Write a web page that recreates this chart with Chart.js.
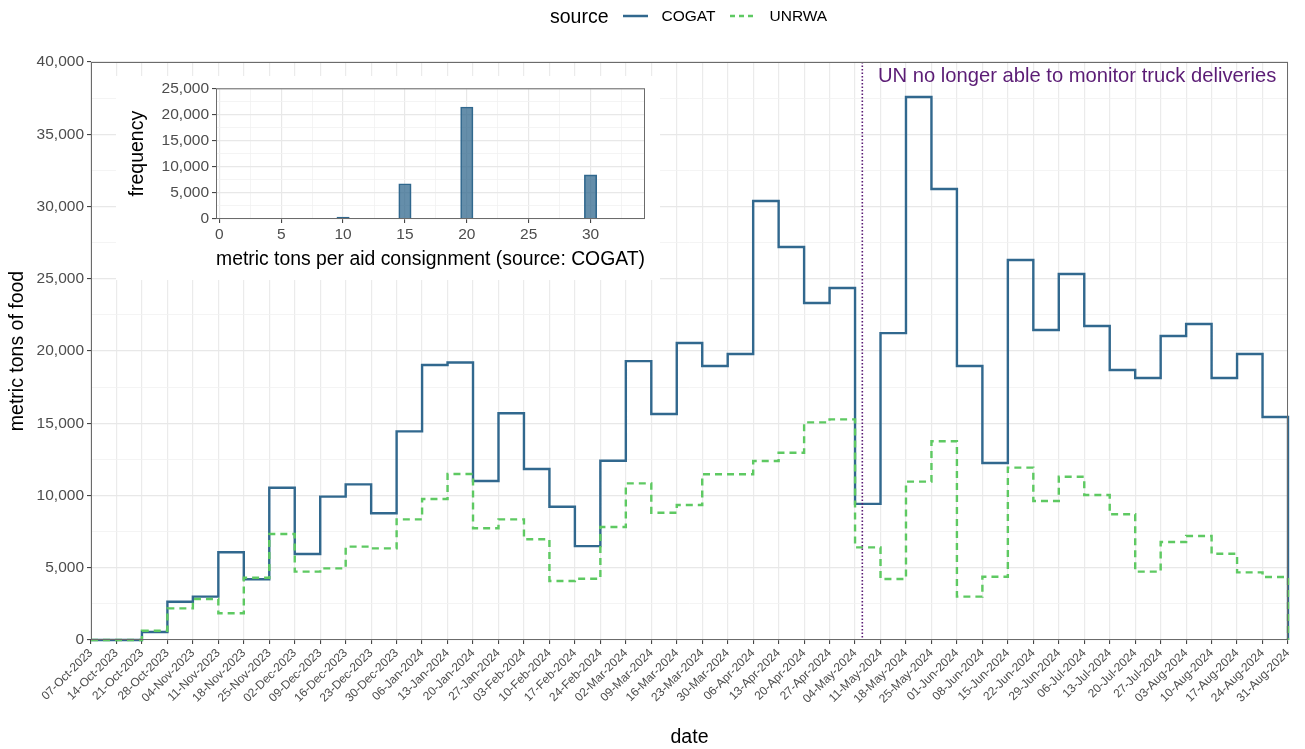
<!DOCTYPE html>
<html>
<head>
<meta charset="utf-8">
<title>Food delivered to Gaza per week</title>
<script src="https://cdn.jsdelivr.net/npm/chart.js@4.4.1/dist/chart.umd.min.js"></script>
<style>
  html, body { margin: 0; padding: 0; background: #fff; }
  body { position: relative; width: 1305px; height: 749px; overflow: hidden; font-family: "Liberation Sans", Arial, sans-serif; }
  #main { position: absolute; left: 0; top: 0; }
  #insetBox { position: absolute; left: 116px; top: 76px; width: 544px; height: 204px; background: #fff; }
  #legend { position: absolute; left: 550px; top: 4px; height: 24px; display: flex; align-items: center; color: #000; }
  #legend .title { font-size: 19.5px; margin-right: 14px; }
  #legend .item { font-size: 15.5px; margin-left: 14px; margin-right: 14px; }
  #legend svg { display: block; }
</style>
</head>
<body>
<canvas id="main" width="1305" height="749"></canvas>
<div id="insetBox"><canvas id="inset" width="544" height="204"></canvas></div>
<div id="legend">
  <span class="title">source</span>
  <svg width="25" height="10"><line x1="0" y1="5" x2="25" y2="5" stroke="#31688e" stroke-width="2.5"/></svg>
  <span class="item">COGAT</span>
  <svg width="26" height="10"><line x1="0" y1="5" x2="26" y2="5" stroke="#5ec962" stroke-width="2.5" stroke-dasharray="5 4"/></svg>
  <span class="item" style="margin-right:0">UNRWA</span>
</div>

<script>
// weekly totals, metric tons of food
const weekLabels = [
  '07-Oct-2023', '14-Oct-2023', '21-Oct-2023', '28-Oct-2023',
  '04-Nov-2023', '11-Nov-2023', '18-Nov-2023', '25-Nov-2023',
  '02-Dec-2023', '09-Dec-2023', '16-Dec-2023', '23-Dec-2023', '30-Dec-2023',
  '06-Jan-2024', '13-Jan-2024', '20-Jan-2024', '27-Jan-2024',
  '03-Feb-2024', '10-Feb-2024', '17-Feb-2024', '24-Feb-2024',
  '02-Mar-2024', '09-Mar-2024', '16-Mar-2024', '23-Mar-2024', '30-Mar-2024',
  '06-Apr-2024', '13-Apr-2024', '20-Apr-2024', '27-Apr-2024',
  '04-May-2024', '11-May-2024', '18-May-2024', '25-May-2024',
  '01-Jun-2024', '08-Jun-2024', '15-Jun-2024', '22-Jun-2024', '29-Jun-2024',
  '06-Jul-2024', '13-Jul-2024', '20-Jul-2024', '27-Jul-2024',
  '03-Aug-2024', '10-Aug-2024', '17-Aug-2024', '24-Aug-2024', '31-Aug-2024'
];

const cogatTons = [
  0, 0, 550, 2650, 3000, 6070, 4200, 10540, 5950, 9920, 10770, 8770, 14440,
  19030, 19200, 11000, 15690, 11830, 9220, 6500, 12400, 19300, 15640, 20550,
  18960, 19790, 30380, 27200, 23320, 24360, 9420, 21240, 37580, 31210, 18960,
  12250, 26300, 21450, 25330, 21730, 18680, 18130, 21040, 21870, 18130, 19790,
  15430, 0
];

const unrwaTons = [
  0, 0, 640, 2190, 2840, 1850, 4310, 7340, 4730, 4960, 6460, 6340, 8350,
  9760, 11490, 7730, 8350, 6970, 4080, 4240, 7820, 10840, 8810, 9340,
  11470, 11470, 12390, 12960, 15060, 15270, 6410, 4220, 10960, 13750, 3000,
  4380, 11930, 9620, 11300, 10030, 8700, 4730, 6780, 7200, 5970, 4680,
  4360, 0
];

// histogram of consignment sizes (COGAT)
const consignmentTons = [
  0, 1, 2, 3, 4, 5, 6, 7, 8, 9, 10, 11, 12, 13, 14, 15, 16,
  17, 18, 19, 20, 21, 22, 23, 24, 25, 26, 27, 28, 29, 30, 31, 32, 33
];
const consignmentCounts = [
  60, 0, 0, 0, 0, 40, 0, 0, 0, 0, 380, 0, 0, 0, 0, 6750, 0,
  40, 40, 0, 21430, 0, 40, 0, 0, 60, 0, 0, 0, 0, 8440, 0, 0, 40
];

// UN monitoring stopped on 06-May-2024
const monitorStopWeek = weekLabels.indexOf('04-May-2024') + 2 / 7;
const noteWeek = weekLabels.indexOf('04-May-2024') + 0.9;
const noteTons = 39000;
const noteText = 'UN no longer able to monitor truck deliveries';

Chart.defaults.font.family = '"Liberation Sans", Arial, sans-serif';
Chart.defaults.color = '#4d4d4d';

const cogatColor = '#31688e';
const unrwaColor = '#5ec962';
const noteColor = '#5b1c75';
const frameColor = '#6b6b6b';

function isMajor(v, step) {
  return Math.abs(v / step - Math.round(v / step)) < 1e-6;
}

// grid styling: major / minor lines like ggplot's theme_bw
function gridStyle(step) {
  const major = ctx => ctx.tick && isMajor(ctx.tick.value, step);
  return {
    offset: false,
    color: ctx => major(ctx) ? '#e8e8e8' : '#f1f1f1',
    lineWidth: ctx => major(ctx) ? 1.2 : 0.8,
    tickColor: ctx => major(ctx) ? '#333333' : 'rgba(0,0,0,0)',
    tickLength: 4,
    tickWidth: 1
  };
}

const mainDecor = {
  id: 'mainDecor',
  afterDatasetsDraw(chart) {
    const { ctx, chartArea: a, scales: { x, y } } = chart;
    const px = x.getPixelForValue(monitorStopWeek);
    ctx.save();
    // dotted marker line
    ctx.strokeStyle = noteColor;
    ctx.lineWidth = 1.6;
    ctx.setLineDash([1.6, 1.9]);
    ctx.beginPath();
    ctx.moveTo(px, a.top);
    ctx.lineTo(px, a.bottom);
    ctx.stroke();
    ctx.setLineDash([]);
    // note
    ctx.fillStyle = noteColor;
    ctx.font = '20.2px "Liberation Sans", Arial, sans-serif';
    ctx.textAlign = 'left';
    ctx.textBaseline = 'middle';
    ctx.fillText(noteText, x.getPixelForValue(noteWeek), y.getPixelForValue(noteTons));
    // panel frame
    ctx.strokeStyle = frameColor;
    ctx.lineWidth = 1;
    ctx.strokeRect(a.left + 0.5, a.top + 0.5, a.width - 1, a.height - 1);
    ctx.restore();
  }
};

const insetFrame = {
  id: 'insetFrame',
  afterDatasetsDraw(chart) {
    const { ctx, chartArea: a } = chart;
    ctx.save();
    ctx.strokeStyle = frameColor;
    ctx.lineWidth = 1;
    ctx.strokeRect(a.left + 0.5, a.top + 0.5, a.width - 1, a.height - 1);
    ctx.restore();
  }
};

new Chart(document.getElementById('main').getContext('2d'), {
  type: 'line',
  data: {
    labels: weekLabels,
    datasets: [
      {
        label: 'COGAT',
        data: cogatTons,
        borderColor: cogatColor,
        borderWidth: 2.4,
        stepped: true,
        pointRadius: 0,
        fill: false,
        clip: 4,
        order: 2
      },
      {
        label: 'UNRWA',
        data: unrwaTons,
        borderColor: unrwaColor,
        borderWidth: 2.4,
        borderDash: [7, 5],
        stepped: true,
        pointRadius: 0,
        fill: false,
        clip: 4,
        order: 1
      }
    ]
  },
  options: {
    responsive: false,
    animation: false,
    layout: { padding: { top: 62, right: 17, left: 0, bottom: 0 } },
    plugins: {
      legend: { display: false },
      tooltip: { enabled: false }
    },
    scales: {
      x: {
        type: 'category',
        offset: false,
        border: { display: false },
        grid: {
          color: '#ebebeb',
          lineWidth: 1.2,
          tickColor: '#333333',
          tickLength: 4,
          tickWidth: 1
        },
        ticks: {
          autoSkip: false,
          minRotation: 45,
          maxRotation: 45,
          padding: 2,
          color: '#4d4d4d',
          font: { size: 12 }
        },
        title: {
          display: true,
          text: 'date',
          color: '#000',
          font: { size: 19.5 },
          padding: { top: 0, bottom: 0 }
        },
        afterFit(scale) { scale.height = 109; }
      },
      y: {
        min: 0,
        max: 40000,
        border: { display: false },
        grid: gridStyle(5000),
        ticks: {
          stepSize: 2500,
          autoSkip: false,
          padding: 3,
          color: '#4d4d4d',
          font: { size: 15.5 },
          callback: v => isMajor(v, 5000) ? v.toLocaleString('en-US') : ''
        },
        title: {
          display: true,
          text: 'metric tons of food',
          color: '#000',
          font: { size: 19.5 },
          padding: { top: 6, bottom: 0 }
        },
        afterFit(scale) { scale.width = 91; }
      }
    }
  },
  plugins: [mainDecor]
});

new Chart(document.getElementById('inset').getContext('2d'), {
  type: 'bar',
  data: {
    datasets: [{
      label: 'frequency',
      data: consignmentTons.map((t, i) => ({ x: t, y: consignmentCounts[i] })),
      backgroundColor: 'rgba(49, 104, 142, 0.75)',
      borderColor: cogatColor,
      borderWidth: 1,
      barPercentage: 1,
      categoryPercentage: 1
    }]
  },
  options: {
    responsive: false,
    animation: false,
    layout: { padding: { top: 10, right: 15, left: 0, bottom: 0 } },
    plugins: {
      legend: { display: false },
      tooltip: { enabled: false }
    },
    scales: {
      x: {
        type: 'linear',
        min: -0.27,
        max: 34.4,
        offset: false,
        border: { display: false },
        grid: gridStyle(5),
        ticks: {
          stepSize: 2.5,
          includeBounds: false,
          autoSkip: false,
          maxRotation: 0,
          padding: 2,
          color: '#4d4d4d',
          font: { size: 15.5 },
          callback: v => isMajor(v, 5) ? String(v) : ''
        },
        title: {
          display: true,
          text: 'metric tons per aid consignment (source: COGAT)',
          color: '#000',
          font: { size: 19.5 },
          padding: { top: 0, bottom: 9 }
        },
        afterFit(scale) { scale.height = 61; }
      },
      y: {
        min: 0,
        max: 25000,
        border: { display: false },
        grid: gridStyle(5000),
        ticks: {
          stepSize: 2500,
          autoSkip: false,
          padding: 3,
          color: '#4d4d4d',
          font: { size: 15.5 },
          callback: v => isMajor(v, 5000) ? v.toLocaleString('en-US') : ''
        },
        title: {
          display: true,
          text: 'frequency',
          color: '#000',
          font: { size: 19.5 },
          padding: { top: 10, bottom: 0 }
        },
        afterFit(scale) { scale.width = 100; }
      }
    }
  },
  plugins: [insetFrame]
});
</script>
</body>
</html>
